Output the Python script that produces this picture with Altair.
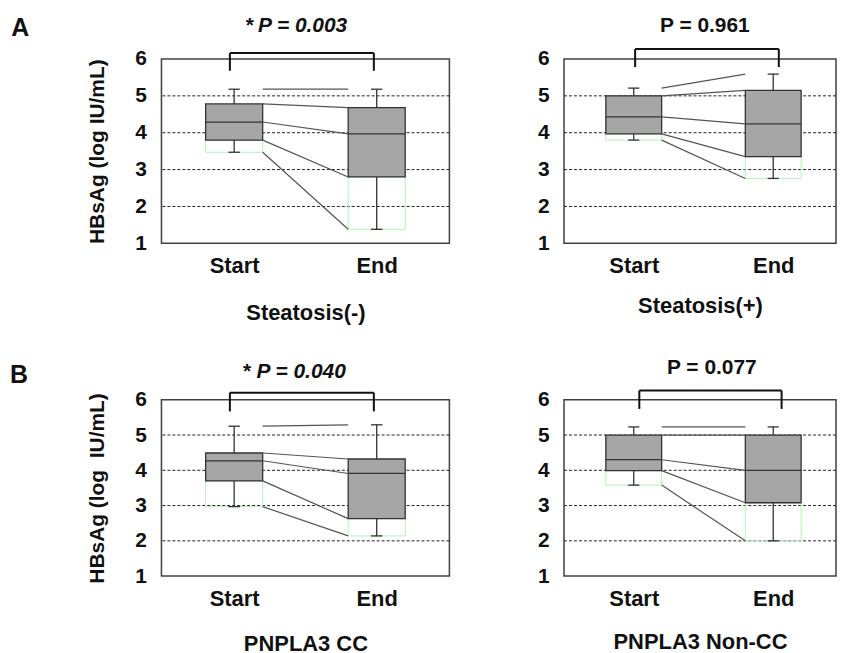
import altair as alt
import pandas as pd

panel_names = ["Steatosis(-)", "Steatosis(+)", "PNPLA3 CC", "PNPLA3 Non-CC"]
# box statistics per panel: [min, Q1, median, Q3, max]
start_stats = [
    [3.47, 3.80, 4.29, 4.78, 5.18],
    [3.80, 3.97, 4.43, 5.00, 5.21],
    [2.97, 3.70, 4.27, 4.49, 5.25],
    [3.58, 3.99, 4.30, 5.00, 5.23],
]
end_stats = [
    [1.38, 2.80, 3.97, 4.68, 5.18],
    [2.76, 3.35, 4.24, 5.15, 5.59],
    [2.14, 2.63, 3.91, 4.32, 5.29],
    [2.00, 3.08, 4.00, 5.00, 5.23],
]
p_stars = ["*", "", "*", ""]
p_texts = ["P = 0.003", "P = 0.961", "P = 0.040", "P = 0.077"]
p_significant = [True, False, True, False]
time_labels = ["Start", "End"]
y_ticks = [1, 2, 3, 4, 5, 6]
grid_values = [2, 3, 4, 5]
y_titles = ["HBsAg (log IU/mL)", None, "HBsAg (log\u00a0 IU/mL)", None]
letters = ["A", None, "B", None]

# annotation anchors (data units)
p_x = [1.48, 1.51, 1.47, 1.56]
p_y = [6.89, 6.90, 6.79, 6.89]
star_x = [1.11, None, 1.09, None]
br_x1 = [0.97, 1.01, 0.97, 1.04]
br_x2 = [1.98, 2.04, 1.98, 2.06]
br_top = [6.16, 6.27, 6.20, 6.26]
br_bot = [5.68, 5.78, 5.67, 5.74]
letter_x = [-0.50, None, -0.51, None]
letter_y = [6.84, None, 6.71, None]

FONT = "Liberation Sans"
BOX_HALF = 0.2
CAP_HALF = 0.04


def make_panel(i, width, height, xdomain, title_pad):
    xs = alt.Scale(domain=xdomain, nice=False, zero=False)
    ys = alt.Scale(domain=[1, 6], nice=False, zero=False)
    xax = alt.Axis(values=[1, 2],
                   labelExpr="datum.value == 1 ? '%s' : '%s'" % tuple(time_labels),
                   ticks=False, domain=False, grid=False, labelPadding=12,
                   labelFontSize=22, title=panel_names[i], titlePadding=title_pad,
                   titleFontSize=22)
    yargs = dict(values=y_ticks, format="d", ticks=False, domain=False, grid=False,
                 labelPadding=15, labelFontSize=21)
    if y_titles[i]:
        yargs.update(title=y_titles[i], titleFontSize=21, titlePadding=27)
    else:
        yargs.update(title=None)
    yax = alt.Axis(**yargs)

    def X(f):
        return alt.X(f"{f}:Q", scale=xs, axis=xax)

    def Y(f):
        return alt.Y(f"{f}:Q", scale=ys, axis=yax)

    rows = []
    for pos, st in zip([1, 2], [start_stats[i], end_stats[i]]):
        rows.append(dict(pos=pos, lo=pos - BOX_HALF, hi=pos + BOX_HALF,
                         clo=pos - CAP_HALF, chi=pos + CAP_HALF,
                         mn=st[0], q1=st[1], med=st[2], q3=st[3], mx=st[4]))
    box = pd.DataFrame(rows)
    lines = pd.DataFrame(dict(xa=[1 + BOX_HALF] * 5, xb=[2 - BOX_HALF] * 5,
                              ya=start_stats[i], yb=end_stats[i]))
    grid = pd.DataFrame(dict(g=grid_values))
    br = pd.DataFrame(dict(
        xa=[br_x1[i], br_x1[i], br_x2[i]],
        xb=[br_x2[i], br_x1[i], br_x2[i]],
        ya=[br_top[i], br_top[i], br_top[i]],
        yb=[br_top[i], br_bot[i], br_bot[i]],
    ))
    ptext = pd.DataFrame(dict(x=[p_x[i]], y=[p_y[i]], t=[p_texts[i]]))

    layers = []
    layers.append(alt.Chart(grid).mark_rule(color="#222", strokeWidth=1,
                                            strokeDash=[3, 2]).encode(y=Y("g")))
    layers.append(alt.Chart(box).mark_rect(fillOpacity=0, stroke="#b5f2b5",
                                           strokeWidth=1).encode(
        x=X("lo"), x2=alt.X2("hi"), y=Y("mn"), y2=alt.Y2("q1")))
    layers.append(alt.Chart(box).mark_rule(color="#333", strokeWidth=1.3).encode(
        x=X("pos"), y=Y("q3"), y2=alt.Y2("mx")))
    layers.append(alt.Chart(box).mark_rule(color="#333", strokeWidth=1.3).encode(
        x=X("pos"), y=Y("mn"), y2=alt.Y2("q1")))
    layers.append(alt.Chart(box).mark_rule(color="#333", strokeWidth=1.3).encode(
        x=X("clo"), x2=alt.X2("chi"), y=Y("mx")))
    layers.append(alt.Chart(box).mark_rule(color="#333", strokeWidth=1.3).encode(
        x=X("clo"), x2=alt.X2("chi"), y=Y("mn")))
    layers.append(alt.Chart(box).mark_rect(fill="#a6a6a6", stroke="#333",
                                           strokeWidth=1.3).encode(
        x=X("lo"), x2=alt.X2("hi"), y=Y("q1"), y2=alt.Y2("q3")))
    layers.append(alt.Chart(box).mark_rule(color="#333", strokeWidth=1.3).encode(
        x=X("lo"), x2=alt.X2("hi"), y=Y("med")))
    layers.append(alt.Chart(lines).mark_rule(color="#555", strokeWidth=1.2).encode(
        x=X("xa"), x2=alt.X2("xb"), y=Y("ya"), y2=alt.Y2("yb")))
    layers.append(alt.Chart(br).mark_rule(color="#111", strokeWidth=2).encode(
        x=X("xa"), x2=alt.X2("xb"), y=Y("ya"), y2=alt.Y2("yb")))
    tprops = dict(font=FONT, fontSize=21, fontWeight="bold", color="#111",
                  align="center", baseline="middle")
    if p_significant[i]:
        tprops["fontStyle"] = "italic"
    layers.append(alt.Chart(ptext).mark_text(**tprops).encode(
        x=X("x"), y=Y("y"), text="t:N"))
    if p_stars[i]:
        st = pd.DataFrame(dict(x=[star_x[i]], y=[p_y[i]], t=[p_stars[i]]))
        layers.append(alt.Chart(st).mark_text(font=FONT, fontSize=21, fontWeight="bold",
                                              color="#111", align="center",
                                              baseline="middle").encode(
            x=X("x"), y=Y("y"), text="t:N"))
    if letters[i]:
        lt = pd.DataFrame(dict(x=[letter_x[i]], y=[letter_y[i]], t=[letters[i]]))
        layers.append(alt.Chart(lt).mark_text(font=FONT, fontSize=25, fontWeight="bold",
                                              color="#111", align="center",
                                              baseline="middle").encode(
            x=X("x"), y=Y("y"), text="t:N"))
    return alt.layer(*layers).properties(width=width, height=height)


a_left = make_panel(0, 289, 185, [0.49, 2.51], 26)
a_right = make_panel(1, 273, 185, [0.5, 2.45], 19)
b_left = make_panel(2, 289, 177, [0.49, 2.51], 25)
b_right = make_panel(3, 273, 177, [0.5, 2.45], 23)

chart = alt.concat(a_left, a_right, b_left, b_right, columns=2,
                   spacing={"row": 157, "column": 115},
                   bounds="flush", align="each").properties(
    padding={"left": 1, "top": 4, "right": 0, "bottom": 0},
    background="white",
).configure_view(
    stroke="#404040", strokeWidth=1.5
).configure_axis(
    labelFont=FONT, titleFont=FONT, labelFontWeight="bold", titleFontWeight="bold",
    labelColor="#111", titleColor="#111"
)

chart.save("out.html", embed_options={"renderer": "svg", "actions": False})
